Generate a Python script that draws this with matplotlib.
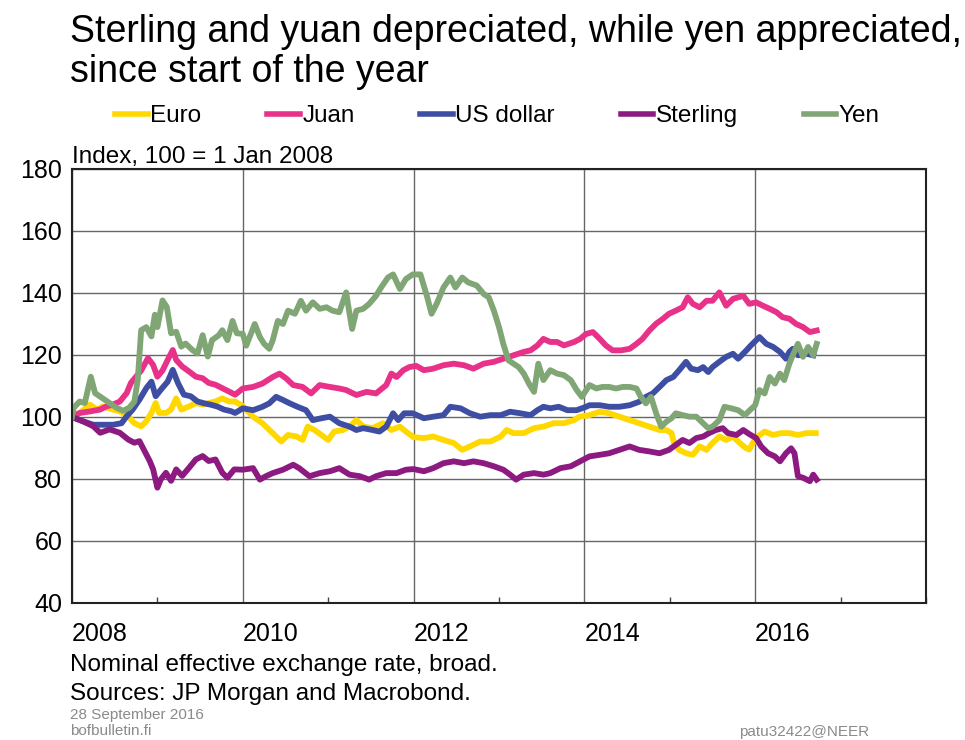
import matplotlib
matplotlib.use('Agg')
import matplotlib.pyplot as plt
from matplotlib.ticker import MultipleLocator

plt.rcParams['font.family'] = ['Liberation Sans', 'DejaVu Sans']

# ---------- datos (años decimales) ----------
euro_t = [2008.00, 2008.09, 2008.21, 2008.29, 2008.36, 2008.48, 2008.56, 2008.66, 2008.73, 2008.81,
          2008.87, 2008.93, 2008.98, 2009.02, 2009.10, 2009.16, 2009.22, 2009.28, 2009.37, 2009.45,
          2009.53, 2009.60, 2009.68, 2009.76, 2009.84, 2009.91, 2010.00, 2010.12, 2010.23, 2010.35,
          2010.45, 2010.53, 2010.63, 2010.70, 2010.76, 2010.84, 2010.92, 2011.00, 2011.07, 2011.17,
          2011.25, 2011.33, 2011.41, 2011.52, 2011.64, 2011.74, 2011.84, 2011.91, 2012.00, 2012.12,
          2012.23, 2012.35, 2012.47, 2012.57, 2012.66, 2012.78, 2012.90, 2013.02, 2013.09, 2013.17,
          2013.29, 2013.41, 2013.52, 2013.64, 2013.76, 2013.88, 2013.94, 2014.06, 2014.18, 2014.29,
          2014.41, 2014.53, 2014.64, 2014.76, 2014.88, 2014.96, 2015.02, 2015.05, 2015.11, 2015.19,
          2015.27, 2015.35, 2015.43, 2015.50, 2015.58, 2015.66, 2015.74, 2015.82, 2015.89, 2015.93,
          2015.98, 2016.03, 2016.11, 2016.21, 2016.30, 2016.40, 2016.50, 2016.60, 2016.71]
euro = [100, 101.3, 104, 102.4, 103.4, 102.4, 101.8, 100.2, 98, 97,
        98.6, 101.3, 104.5, 101.3, 101.3, 102.4, 106, 102.4, 103.4, 104.5,
        104, 104.5, 105, 106, 105, 105, 103.5, 100.1, 98, 94.8,
        92.1, 94.2, 93.7, 92.6, 96.9, 95.8, 94.2, 92.6, 95.3, 95.8,
        96.9, 99, 96.9, 96.4, 98, 95.8, 96.9, 95.3, 93.5, 93.2,
        93.7, 92.6, 91.6, 89.4, 90.5, 92.1, 92.1, 93.7, 95.8, 94.8,
        94.8, 96.4, 96.9, 98, 98, 99, 100.1, 100.6, 101.7, 101.2,
        100.1, 99, 98, 96.9, 95.8, 95.8, 94.8, 91.6, 89.4, 88.3,
        87.8, 90.5, 89.4, 91.6, 93.7, 92.6, 93.7, 91.6, 90, 89.5,
        92, 93.7, 95.3, 94.2, 94.8, 94.8, 94.2, 94.8, 94.8]

juan_t = [2008.00, 2008.09, 2008.21, 2008.33, 2008.40, 2008.48, 2008.56, 2008.64, 2008.69, 2008.75,
          2008.81, 2008.89, 2008.95, 2009.00, 2009.06, 2009.12, 2009.18, 2009.22, 2009.29, 2009.37,
          2009.45, 2009.53, 2009.60, 2009.68, 2009.76, 2009.84, 2009.91, 2010.00, 2010.12, 2010.23,
          2010.35, 2010.43, 2010.51, 2010.59, 2010.70, 2010.80, 2010.90, 2011.02, 2011.13, 2011.21,
          2011.33, 2011.45, 2011.56, 2011.68, 2011.74, 2011.80, 2011.88, 2011.95, 2012.03, 2012.12,
          2012.23, 2012.35, 2012.47, 2012.59, 2012.70, 2012.82, 2012.94, 2013.05, 2013.17, 2013.29,
          2013.37, 2013.45, 2013.52, 2013.60, 2013.68, 2013.76, 2013.88, 2013.95, 2014.02, 2014.10,
          2014.18, 2014.25, 2014.33, 2014.43, 2014.53, 2014.61, 2014.68, 2014.76, 2014.84, 2014.92,
          2014.99, 2015.07, 2015.15, 2015.21, 2015.27, 2015.35, 2015.43, 2015.50, 2015.58, 2015.66,
          2015.74, 2015.86, 2015.93, 2016.01, 2016.09, 2016.17, 2016.25, 2016.32, 2016.40, 2016.48,
          2016.56, 2016.64, 2016.72]
juan = [100, 101.3, 101.8, 102.4, 103.4, 104, 105, 107.7, 111, 113,
        115, 119, 116.8, 113, 115, 118.4, 121.6, 118.4, 116.3, 114.7,
        113, 112.5, 111, 110.4, 109.3, 108.2, 107.2, 109.2, 109.7, 110.8,
        112.9, 114, 112.4, 110.3, 109.7, 107.6, 110.3, 109.7, 109.2, 108.7,
        107.1, 108.1, 107.6, 110.3, 114, 112.9, 115.1, 116.1, 116.5, 115.1,
        115.6, 116.7, 117.2, 116.7, 115.6, 117.2, 117.8, 118.8, 119.9, 121,
        121.5, 123.1, 125.2, 124.2, 124.2, 123.1, 124.2, 125.2, 126.8, 127.4,
        125.2, 123.1, 121.5, 121.5, 122, 123.6, 125.2, 127.9, 130.1, 131.7,
        133.3, 134.3, 135.4, 138.6, 136.5, 135.4, 137.5, 137.5, 140.2, 135.9,
        138.1, 139.1, 136.5, 137, 135.9, 134.9, 133.8, 132.2, 131.7, 130,
        129, 127.4, 127.9]

usd_t = [2008.00, 2008.13, 2008.25, 2008.36, 2008.48, 2008.58, 2008.64, 2008.71, 2008.79, 2008.87,
         2008.93, 2008.98, 2009.04, 2009.12, 2009.18, 2009.24, 2009.31, 2009.39, 2009.47, 2009.55,
         2009.62, 2009.70, 2009.78, 2009.86, 2009.91, 2010.00, 2010.12, 2010.23, 2010.31, 2010.39,
         2010.47, 2010.55, 2010.64, 2010.74, 2010.82, 2010.92, 2011.02, 2011.13, 2011.25, 2011.33,
         2011.41, 2011.52, 2011.60, 2011.68, 2011.76, 2011.82, 2011.89, 2011.99, 2012.12, 2012.23,
         2012.35, 2012.43, 2012.55, 2012.66, 2012.78, 2012.90, 2013.02, 2013.13, 2013.25, 2013.37,
         2013.45, 2013.52, 2013.60, 2013.70, 2013.80, 2013.91, 2014.02, 2014.06, 2014.18, 2014.29,
         2014.41, 2014.53, 2014.64, 2014.72, 2014.80, 2014.88, 2014.96, 2015.04, 2015.11, 2015.19,
         2015.25, 2015.33, 2015.39, 2015.45, 2015.50, 2015.58, 2015.66, 2015.74, 2015.80, 2015.88,
         2015.95, 2016.05, 2016.13, 2016.21, 2016.29, 2016.36, 2016.40, 2016.44, 2016.50, 2016.60,
         2016.68]
usd = [100, 98.6, 97.5, 97.5, 97.5, 98, 100.2, 102.4, 105.6, 109.3,
       111.4, 106.7, 108.8, 111.4, 115.2, 111, 107.2, 106.7, 105, 104.4,
       104, 103.4, 102.4, 101.9, 101.3, 102.8, 102.2, 103.3, 104.4, 106.5,
       105.5, 104.4, 103.3, 102.2, 99, 99.6, 100.1, 98, 96.9, 95.8,
       96.4, 95.8, 95.3, 96.9, 101.2, 99, 101.2, 101.2, 99.6, 100.1,
       100.6, 103.3, 102.8, 101.2, 100.1, 100.6, 100.6, 101.7, 101.2, 100.6,
       102.2, 103.3, 102.8, 103.3, 102.2, 102.2, 103.3, 103.8, 103.8, 103.3,
       103.3, 103.8, 104.9, 106.5, 107.6, 109.7, 111.9, 112.9, 115.1, 117.8,
       115.6, 115.1, 116.1, 114.5, 116.1, 117.8, 119.4, 120.4, 118.8, 121,
       123.1, 125.8, 123.6, 122.6, 121, 118.8, 121, 122, 119.9, 120.4,
       119.9]

gbp_t = [2008.00, 2008.13, 2008.25, 2008.33, 2008.44, 2008.56, 2008.66, 2008.73, 2008.79, 2008.85,
         2008.91, 2008.95, 2009.00, 2009.04, 2009.10, 2009.16, 2009.22, 2009.29, 2009.37, 2009.45,
         2009.53, 2009.60, 2009.68, 2009.76, 2009.82, 2009.90, 2010.00, 2010.12, 2010.20, 2010.27,
         2010.35, 2010.47, 2010.59, 2010.66, 2010.78, 2010.90, 2011.02, 2011.13, 2011.25, 2011.37,
         2011.48, 2011.56, 2011.68, 2011.80, 2011.91, 2012.00, 2012.12, 2012.23, 2012.35, 2012.47,
         2012.59, 2012.70, 2012.82, 2012.94, 2013.05, 2013.13, 2013.20, 2013.29, 2013.41, 2013.52,
         2013.60, 2013.72, 2013.84, 2013.95, 2014.06, 2014.18, 2014.29, 2014.41, 2014.53, 2014.64,
         2014.76, 2014.88, 2014.99, 2015.07, 2015.15, 2015.23, 2015.31, 2015.39, 2015.46, 2015.54,
         2015.62, 2015.68, 2015.78, 2015.86, 2015.93, 2016.01, 2016.07, 2016.15, 2016.23, 2016.29,
         2016.36, 2016.42, 2016.46, 2016.50, 2016.56, 2016.64, 2016.68, 2016.72]
gbp = [100, 98.6, 97, 94.9, 96, 94.9, 92.7, 91.7, 92.2, 89,
       85.8, 83.1, 77.2, 79.9, 82, 79.4, 83.1, 81, 83.6, 86.3,
       87.4, 85.8, 86.3, 82, 80.4, 83.1, 83, 83.5, 79.8, 80.9,
       81.9, 83, 84.6, 83.5, 80.9, 81.9, 82.5, 83.5, 81.4, 80.9,
       79.8, 80.9, 81.9, 81.9, 83, 83.2, 82.5, 83.5, 85.1, 85.7,
       85.1, 85.7, 85.1, 84.1, 83, 81.4, 79.8, 81.4, 81.9, 81.4,
       81.9, 83.5, 84.1, 85.7, 87.3, 87.8, 88.3, 89.4, 90.5, 89.4,
       88.9, 88.3, 89.4, 91, 92.6, 91.6, 93.2, 93.7, 94.8, 95.8,
       96.4, 94.8, 94.2, 95.8, 94.5, 93.2, 90.5, 88.3, 87.3, 85.7,
       88.3, 89.9, 88.3, 80.9, 80.4, 79.3, 81.4, 79.8]

yen_t = [2008.00, 2008.02, 2008.09, 2008.15, 2008.22, 2008.27, 2008.36, 2008.44, 2008.52, 2008.60,
         2008.67, 2008.73, 2008.77, 2008.81, 2008.87, 2008.93, 2008.97, 2009.00, 2009.06, 2009.11,
         2009.16, 2009.22, 2009.28, 2009.33, 2009.41, 2009.47, 2009.53, 2009.59, 2009.64, 2009.72,
         2009.76, 2009.82, 2009.88, 2009.93, 2010.00, 2010.04, 2010.14, 2010.20, 2010.25, 2010.31,
         2010.35, 2010.41, 2010.47, 2010.53, 2010.61, 2010.68, 2010.74, 2010.82, 2010.90, 2010.98,
         2011.05, 2011.13, 2011.21, 2011.25, 2011.28, 2011.33, 2011.41, 2011.48, 2011.56, 2011.62,
         2011.70, 2011.76, 2011.84, 2011.91, 2011.99, 2012.08, 2012.16, 2012.21, 2012.27, 2012.35,
         2012.43, 2012.49, 2012.57, 2012.64, 2012.74, 2012.82, 2012.88, 2012.94, 2013.00, 2013.05,
         2013.11, 2013.17, 2013.23, 2013.29, 2013.35, 2013.41, 2013.46, 2013.52, 2013.60, 2013.68,
         2013.76, 2013.84, 2013.91, 2013.97, 2014.06, 2014.14, 2014.21, 2014.29, 2014.37, 2014.45,
         2014.53, 2014.61, 2014.66, 2014.72, 2014.78, 2014.84, 2014.90, 2014.96, 2015.02, 2015.07,
         2015.15, 2015.23, 2015.31, 2015.39, 2015.45, 2015.50, 2015.58, 2015.64, 2015.72, 2015.80,
         2015.88, 2015.93, 2016.00, 2016.05, 2016.11, 2016.17, 2016.23, 2016.29, 2016.34, 2016.40,
         2016.44, 2016.50, 2016.56, 2016.62, 2016.68, 2016.72]
yen = [100, 103, 105, 104.5, 113, 107.7, 106, 104.5, 103, 102,
       103, 105, 112, 128, 129, 126, 133, 129, 137.6, 135.5,
       127, 127.5, 122.7, 123.7, 121.6, 120.5, 126.4, 119.5, 124.8, 126.4,
       128, 124.8, 131, 127, 126.8, 123, 130, 125.8, 123.6, 122,
       124.7, 131, 130, 134.3, 133.3, 137.5, 134.3, 137, 134.9, 135.4,
       134.3, 133.8, 140.2, 133.3, 128.4, 134.3, 134.9, 136.5, 139.1, 141.8,
       145, 146, 141.3, 144.5, 146, 146, 138.6, 133.3, 136.5, 141.8,
       145, 141.8, 145, 143.4, 142.4, 139.7, 138.6, 134.3, 129, 123.6,
       118.3, 117.2, 116.1, 114, 110.8, 108.1, 117.2, 111.9, 115.1, 114,
       113.5, 111.9, 108.7, 106.5, 110.3, 109.2, 109.7, 109.7, 109.2, 109.7,
       109.7, 109.2, 106.5, 104.4, 106.5, 101.2, 96.9, 98.5, 99.6, 101.2,
       100.6, 100.1, 100.1, 98, 96.4, 96.9, 99, 103.3, 102.8, 102.2,
       100.6, 102, 103.8, 108.7, 107.6, 112.9, 110.8, 114, 111.9, 117.2,
       119.9, 123.6, 119.4, 122.6, 119.9, 123.6]

series = [
    ('Euro', euro_t, euro, '#FFD800'),
    ('Juan', juan_t, juan, '#E8328A'),
    ('US dollar', usd_t, usd, '#3E4FA3'),
    ('Sterling', gbp_t, gbp, '#8C1A80'),
    ('Yen', yen_t, yen, '#80A676'),
]

year_ticks = [2008, 2010, 2012, 2014, 2016]

# ---------- figura ----------
fig = plt.figure(figsize=(9.65, 7.40), dpi=100)
ax = fig.add_axes([72/965, 1 - 603/740, (926 - 72)/965, (603 - 169)/740])

for name, t, v, c in series:
    ax.plot(t, v, color=c, lw=4.2, label=name, solid_joinstyle='round')

ax.set_xlim(2008, 2018)
ax.set_ylim(40, 180)
ax.set_xticks(year_ticks)
ax.set_xticklabels([str(y) for y in year_ticks], ha='left')
ax.xaxis.set_minor_locator(MultipleLocator(1))
ax.yaxis.set_major_locator(MultipleLocator(20))
ax.grid(True, which='major', color='#666666', lw=1.0)
ax.tick_params(axis='x', which='major', length=0, pad=14, labelsize=18)
ax.tick_params(axis='x', which='minor', direction='in', length=4, width=1, color='#444444')
ax.tick_params(axis='y', length=0, pad=7, labelsize=18)
for s in ax.spines.values():
    s.set_linewidth(1.5)
    s.set_color('#222222')

# títulos y textos
fig.text(70/965, 1 - 42/740, 'Sterling and yuan depreciated, while yen appreciated,',
         fontsize=27, va='baseline', ha='left')
fig.text(70/965, 1 - 82/740, 'since start of the year', fontsize=27, va='baseline', ha='left')
fig.text(72/965, 1 - 163/740, 'Index, 100 = 1 Jan 2008', fontsize=17.5, va='baseline', ha='left')

leg = fig.legend(loc='center left', bbox_to_anchor=(115/965, 1 - 116/740), ncol=5,
                 frameon=False, fontsize=17.5, handlelength=1.35, handletextpad=0.1,
                 columnspacing=2.7, borderpad=0, borderaxespad=0)
for h in leg.get_lines():
    h.set_linewidth(4)

fig.text(70/965, 1 - 671/740, 'Nominal effective exchange rate, broad.', fontsize=17.5,
         va='baseline', ha='left')
fig.text(70/965, 1 - 700/740, 'Sources: JP Morgan and Macrobond.', fontsize=17.5,
         va='baseline', ha='left')
fig.text(70/965, 1 - 719/740, '28 September 2016', fontsize=11, color='#8a8a8a',
         va='baseline', ha='left')
fig.text(70/965, 1 - 735/740, 'bofbulletin.fi', fontsize=11, color='#8a8a8a',
         va='baseline', ha='left')
fig.text(739/965, 1 - 736/740, 'patu32422@NEER', fontsize=11, color='#8a8a8a',
         va='baseline', ha='left')

fig.savefig('out.png', dpi=100)
